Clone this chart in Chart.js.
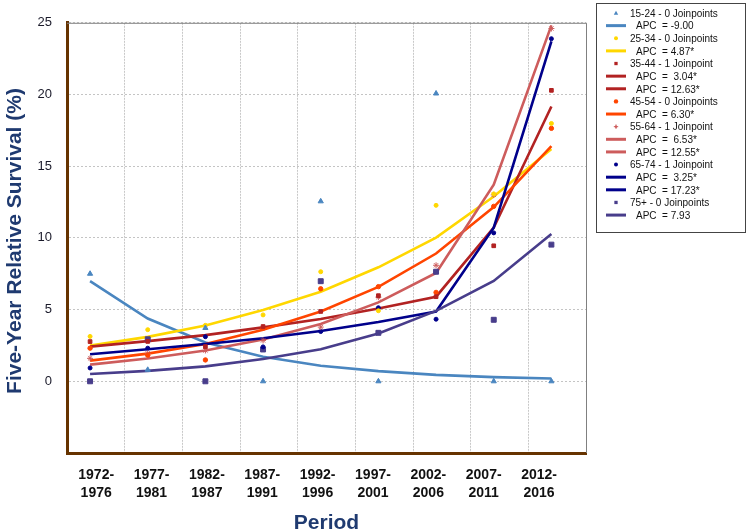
<!DOCTYPE html>
<html><head><meta charset="utf-8">
<script src="https://cdn.jsdelivr.net/npm/chart.js@4/dist/chart.umd.min.js"></script>
<style>html,body{margin:0;padding:0;background:#fff}#wrap{width:749px;height:532px}</style>
</head><body><div id="wrap"><canvas id="c" width="749" height="532"></canvas></div>
<script>
// ---- data ----
const periodLabels = [["1972-","1976"],["1977-","1981"],["1982-","1987"],["1987-","1991"],["1992-","1996"],["1997-","2001"],["2002-","2006"],["2007-","2011"],["2012-","2016"]];
const periodMid = [1974, 1979, 1984, 1989, 1994, 1999, 2004, 2009, 2014];
const yTicks = [0, 5, 10, 15, 20, 25];

const obs1524 = [7.5, 0.8, 3.72, 0, 12.55, 0, 20.07, 0, 0];
const fit1524 = [6.98, 4.38, 2.71, 1.71, 1.09, 0.71, 0.45, 0.29, 0.2];
const obs2534 = [3.13, 3.6, 3.9, 4.63, 7.64, 4.92, 12.27, 13.07, 17.98];
const fit2534 = [2.49, 3.1, 3.89, 4.98, 6.24, 7.95, 10.02, 12.89, 16.2];
const obs3544 = [2.77, 2.78, 2.42, 3.82, 4.87, 5.97, 5.9, 9.45, 20.29];
const fit3544 = [2.42, 2.8, 3.22, 3.76, 4.35, 5.07, 5.9, 10.72, 19.16];
const obs4554 = [2.31, 1.82, 1.49, 3.7, 6.45, 6.6, 6.2, 12.2, 17.64];
const fit4554 = [1.44, 1.93, 2.6, 3.6, 4.87, 6.58, 8.91, 12.15, 16.4];
const obs5564 = [1.6, 1.95, 2.15, 2.85, 3.78, 5.87, 8.09, 13.0, 24.6];
const fit5564 = [1.16, 1.59, 2.15, 2.92, 4.0, 5.5, 7.55, 13.71, 24.82];
const obs6574 = [0.93, 2.31, 3.11, 2.4, 3.47, 5.13, 4.33, 10.35, 23.89];
const fit6574 = [1.89, 2.24, 2.6, 3.0, 3.51, 4.13, 4.87, 10.71, 23.71];
const obs75p = [0, 2.93, 0, 2.22, 6.98, 3.38, 7.64, 4.29, 9.53];
const fit75p = [0.51, 0.73, 1.04, 1.56, 2.24, 3.33, 4.91, 7.0, 10.27];

const groupNames = ["15-24 - 0 Joinpoints","25-34 - 0 Joinpoints","35-44 - 1 Joinpoint","45-54 - 0 Joinpoints","55-64 - 1 Joinpoint","65-74 - 1 Joinpoint","75+ - 0 Joinpoints"];
const apcTexts = [["APC  = -9.00"],["APC  = 4.87*"],["APC  =  3.04*","APC  = 12.63*"],["APC  = 6.30*"],["APC  =  6.53*","APC  = 12.55*"],["APC  =  3.25*","APC  = 17.23*"],["APC  = 7.93"]];
const yTitle = 'Five-Year Relative Survival (%)';
const xTitle = 'Period';

// ---- styles ----
const series = [
  {obs: obs1524, fit: fit1524, color: '#4A86C0', style: 'triangle', r: 3},
  {obs: obs2534, fit: fit2534, color: '#FFD700', style: 'circle', r: 2},
  {obs: obs3544, fit: fit3544, color: '#B22222', style: 'rect', r: 2.6},
  {obs: obs4554, fit: fit4554, color: '#FF4500', style: 'circle', r: 2.2},
  {obs: obs5564, fit: fit5564, color: '#CD5C5C', style: 'star', r: 3},
  {obs: obs6574, fit: fit6574, color: '#00008B', style: 'circle', r: 2},
  {obs: obs75p, fit: fit75p, color: '#483D8B', style: 'rect', r: 3.5}
];
const labelTickYears = periodLabels.map((_, i) => 1974.53 + i * 4.8);
const FONT = '"Liberation Sans", Arial, sans-serif';

const datasets = [];
series.forEach((s, k) => {
  datasets.push({
    label: groupNames[k], data: periodMid.map((x, i) => ({x, y: s.obs[i]})),
    showLine: false, pointStyle: s.style, pointRadius: s.r, pointBackgroundColor: s.color,
    pointBorderColor: s.color, pointBorderWidth: 1, borderColor: s.color, order: 0
  });
});
series.forEach((s, k) => {
  datasets.push({
    label: apcTexts[k][0], data: periodMid.map((x, i) => ({x, y: s.fit[i]})),
    borderColor: s.color, borderWidth: 2.6, pointRadius: 0, tension: 0, fill: false,
    order: 1 + (6 - k) * 0.01
  });
});

function drawMarker(ctx, style, x, y, r, color) {
  ctx.save(); ctx.fillStyle = color; ctx.strokeStyle = color; ctx.lineWidth = 1;
  ctx.beginPath();
  if (style === 'triangle') { ctx.moveTo(x, y - r); ctx.lineTo(x + r, y + r * 0.8); ctx.lineTo(x - r, y + r * 0.8); ctx.closePath(); ctx.fill(); }
  else if (style === 'rect') { ctx.fillRect(x - r * 0.75, y - r * 0.75, r * 1.5, r * 1.5); }
  else if (style === 'star') { ctx.moveTo(x - r, y); ctx.lineTo(x + r, y); ctx.moveTo(x, y - r); ctx.lineTo(x, y + r); ctx.stroke(); ctx.beginPath(); ctx.arc(x, y, 1.2, 0, Math.PI * 2); ctx.fill(); }
  else { ctx.arc(x, y, r, 0, Math.PI * 2); ctx.fill(); }
  ctx.restore();
}

const legendPlugin = {
  id: 'joinLegend',
  afterDraw(chart) {
    const ctx = chart.ctx;
    const a = chart.chartArea;
    ctx.save();
    // top & right frame of plot
    ctx.strokeStyle = '#808080'; ctx.lineWidth = 1;
    ctx.beginPath(); ctx.moveTo(a.left, a.top + 0.5); ctx.lineTo(a.right + 0.5, a.top + 0.5); ctx.lineTo(a.right + 0.5, a.bottom); ctx.stroke();
    // y axis title
    ctx.save();
    ctx.translate(15, 241); ctx.rotate(-Math.PI / 2);
    ctx.font = 'bold 21px ' + FONT; ctx.fillStyle = '#1F3A70';
    ctx.textAlign = 'center'; ctx.textBaseline = 'middle';
    ctx.fillText(yTitle, 0, 0);
    ctx.restore();
    // legend box
    ctx.strokeStyle = '#444'; ctx.lineWidth = 1;
    ctx.strokeRect(596.5, 3.5, 149, 229);
    ctx.font = '10px ' + FONT;
    ctx.fillStyle = '#111'; ctx.textBaseline = 'middle'; ctx.textAlign = 'left';
    let row = 0; const y0 = 14, step = 12.63;
    series.forEach((s, k) => {
      const y = y0 + row * step;
      drawMarker(ctx, s.style, 616, y - 1, Math.min(s.r, 2.2), s.color);
      ctx.fillStyle = '#111'; ctx.fillText(groupNames[k], 630, y);
      row++;
      apcTexts[k].forEach(t => {
        const yy = y0 + row * step;
        ctx.strokeStyle = s.color; ctx.lineWidth = 3;
        ctx.beginPath(); ctx.moveTo(606, yy - 1); ctx.lineTo(626, yy - 1); ctx.stroke();
        ctx.fillStyle = '#111'; ctx.fillText(t, 636, yy);
        row++;
      });
    });
    ctx.restore();
  }
};

new Chart(document.getElementById('c'), {
  type: 'line',
  data: {datasets},
  plugins: [legendPlugin],
  options: {
    responsive: false, animation: false, devicePixelRatio: 1,
    layout: {padding: {left: 0, top: 3, right: 163, bottom: 0}},
    plugins: {legend: {display: false}, tooltip: {enabled: false}},
    scales: {
      x: {
        type: 'linear', min: 1972, max: 2017, position: 'bottom', weight: 0,
        afterBuildTicks(scale) { scale.ticks = []; for (let v = 1972; v <= 2017; v += 5) scale.ticks.push({value: v}); },
        ticks: {display: false},
        grid: {color: '#c8c8c8', lineWidth: 1, drawTicks: false},
        border: {display: true, color: '#663300', width: 3, dash: [2, 1]},
        afterFit(scale) { scale.height = 0; }
      },
      x2: {
        type: 'linear', min: 1972, max: 2017, position: 'bottom', weight: 1,
        afterBuildTicks(scale) { scale.ticks = labelTickYears.map(v => ({value: v})); },
        ticks: {
          autoSkip: false, maxRotation: 0, padding: 13, color: '#111',
          font: {family: FONT, size: 14, weight: 'bold', lineHeight: 1.3},
          callback: (v, i) => periodLabels[i]
        },
        grid: {display: false, drawTicks: false},
        border: {display: false},
        title: {display: true, text: xTitle, color: '#1F3A70', padding: {top: 6, bottom: -4},
          font: {family: FONT, size: 21, weight: 'bold'}},
        afterFit(scale) { scale.height = 79; }
      },
      y: {
        min: -5, max: 25,
        afterBuildTicks(scale) { scale.ticks = [-5].concat(yTicks).map(v => ({value: v})); },
        ticks: {padding: 15, color: '#1a1a2a', font: {family: FONT, size: 13},
          callback: v => (v < 0 ? '' : String(v))},
        grid: {color: '#c4c4c4', lineWidth: 1, drawTicks: false},
        border: {display: true, color: '#663300', width: 3, dash: [2, 2]},
        title: {display: false},
        afterFit(scale) { scale.width = 67; }
      }
    }
  }
});
</script>
</body></html>
